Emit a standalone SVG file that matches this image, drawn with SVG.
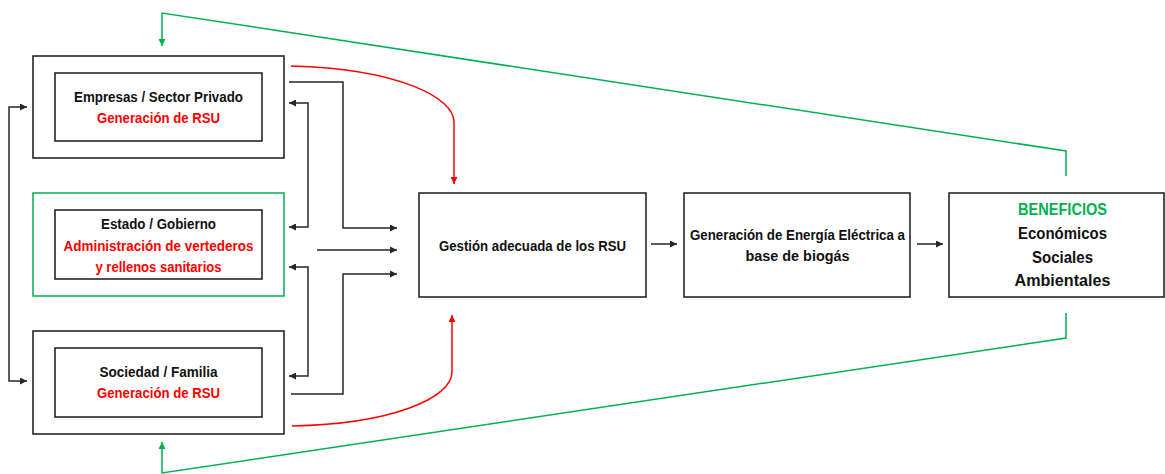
<svg xmlns="http://www.w3.org/2000/svg" width="1165" height="474" viewBox="0 0 1165 474">
<defs>
<style>
.box{fill:#fff;stroke:#262626;stroke-width:1.6}
.gbox{fill:#fff;stroke:#00B050;stroke-width:1.5}
.t{font-family:"Liberation Sans",Arial,sans-serif;font-weight:bold;font-size:13.8px;text-anchor:middle;fill:#111}
.big{font-size:16.8px}
.red{fill:#FF0000}
.grn{fill:#00B050}
.k{fill:none;stroke:#262626;stroke-width:1.5}
.r{fill:none;stroke:#FF0000;stroke-width:1.5}
.g{fill:none;stroke:#00B050;stroke-width:1.5}
</style>
<marker id="ak" viewBox="0 0 10 10" refX="10" refY="5" markerWidth="7" markerHeight="7" markerUnits="userSpaceOnUse" orient="auto-start-reverse"><path d="M0,0 L10,5 L0,10 z" fill="#262626"/></marker>
<marker id="ar" viewBox="0 0 10 10" refX="10" refY="5" markerWidth="7" markerHeight="7" markerUnits="userSpaceOnUse" orient="auto-start-reverse"><path d="M0,0 L10,5 L0,10 z" fill="#FF0000"/></marker>
<marker id="ag" viewBox="0 0 10 10" refX="10" refY="5" markerWidth="7" markerHeight="7" markerUnits="userSpaceOnUse" orient="auto-start-reverse"><path d="M0,0 L10,5 L0,10 z" fill="#00B050"/></marker>
</defs>
<rect width="1165" height="474" fill="#fff"/>

<g id="empresas">
<rect class="box" x="33" y="56" width="251" height="102"/>
<rect class="box" x="55" y="73" width="207" height="68"/>
<text class="t" x="158.5" y="102" textLength="169" lengthAdjust="spacingAndGlyphs">Empresas / Sector Privado</text>
<text class="t red" x="158.5" y="123" textLength="123" lengthAdjust="spacingAndGlyphs">Generación de RSU</text>
</g>

<g id="estado">
<rect class="gbox" x="33" y="193" width="251" height="103"/>
<rect class="box" x="55" y="210" width="207" height="69"/>
<text class="t" x="158.5" y="229" textLength="115" lengthAdjust="spacingAndGlyphs">Estado / Gobierno</text>
<text class="t red" x="158.5" y="250.5" textLength="190" lengthAdjust="spacingAndGlyphs">Administración de vertederos</text>
<text class="t red" x="158.5" y="271.5" textLength="126" lengthAdjust="spacingAndGlyphs">y rellenos sanitarios</text>
</g>

<g id="sociedad">
<rect class="box" x="33" y="331" width="251" height="103"/>
<rect class="box" x="55" y="348" width="207" height="69"/>
<text class="t" x="158.5" y="376.5" textLength="118" lengthAdjust="spacingAndGlyphs">Sociedad / Familia</text>
<text class="t red" x="158.5" y="398" textLength="123" lengthAdjust="spacingAndGlyphs">Generación de RSU</text>
</g>

<g id="gestion">
<rect class="box" x="419" y="193" width="227" height="104"/>
<text class="t" x="532.5" y="250.5" textLength="187" lengthAdjust="spacingAndGlyphs">Gestión adecuada de los RSU</text>
</g>

<g id="energia">
<rect class="box" x="684" y="193" width="226" height="104"/>
<text class="t" x="797.5" y="240" textLength="215" lengthAdjust="spacingAndGlyphs">Generación de Energía Eléctrica a</text>
<text class="t" x="797.5" y="261" textLength="104" lengthAdjust="spacingAndGlyphs">base de biogás</text>
</g>

<g id="beneficios">
<rect class="box" x="949" y="193" width="215" height="104"/>
<text class="t big grn" x="1062.5" y="215" textLength="89" lengthAdjust="spacingAndGlyphs">BENEFICIOS</text>
<text class="t big" x="1062.5" y="239" textLength="89" lengthAdjust="spacingAndGlyphs">Económicos</text>
<text class="t big" x="1062.5" y="262.5" textLength="61" lengthAdjust="spacingAndGlyphs">Sociales</text>
<text class="t big" x="1062.5" y="286" textLength="96" lengthAdjust="spacingAndGlyphs">Ambientales</text>
</g>

<g id="connectors">
<path class="k" d="M27,107 H9 V381 H27" marker-start="url(#ak)" marker-end="url(#ak)"/>
<path class="k" d="M289,82 H343 V228 H397" marker-end="url(#ak)"/>
<path class="k" d="M289,103 H308 V227 H289" marker-start="url(#ak)" marker-end="url(#ak)"/>
<path class="k" d="M317,250 H397" marker-end="url(#ak)"/>
<path class="k" d="M289,267 H308 V376 H289" marker-start="url(#ak)" marker-end="url(#ak)"/>
<path class="k" d="M291,394 H343 V274 H397" marker-end="url(#ak)"/>
<path class="k" d="M651,244 H677" marker-end="url(#ak)"/>
<path class="k" d="M917,244 H943" marker-end="url(#ak)"/>
<path class="r" d="M291,66 C400,69 454,98 454,122 V184" marker-end="url(#ar)"/>
<path class="r" d="M292,426 C392,424 452,398 452,372 V315" marker-end="url(#ar)"/>
<path class="g" d="M1066,176 V151 L162,13 V46" marker-end="url(#ag)"/>
<path class="g" d="M1066,313 V338 L162,473 V442" marker-end="url(#ag)"/>
</g>
</svg>
